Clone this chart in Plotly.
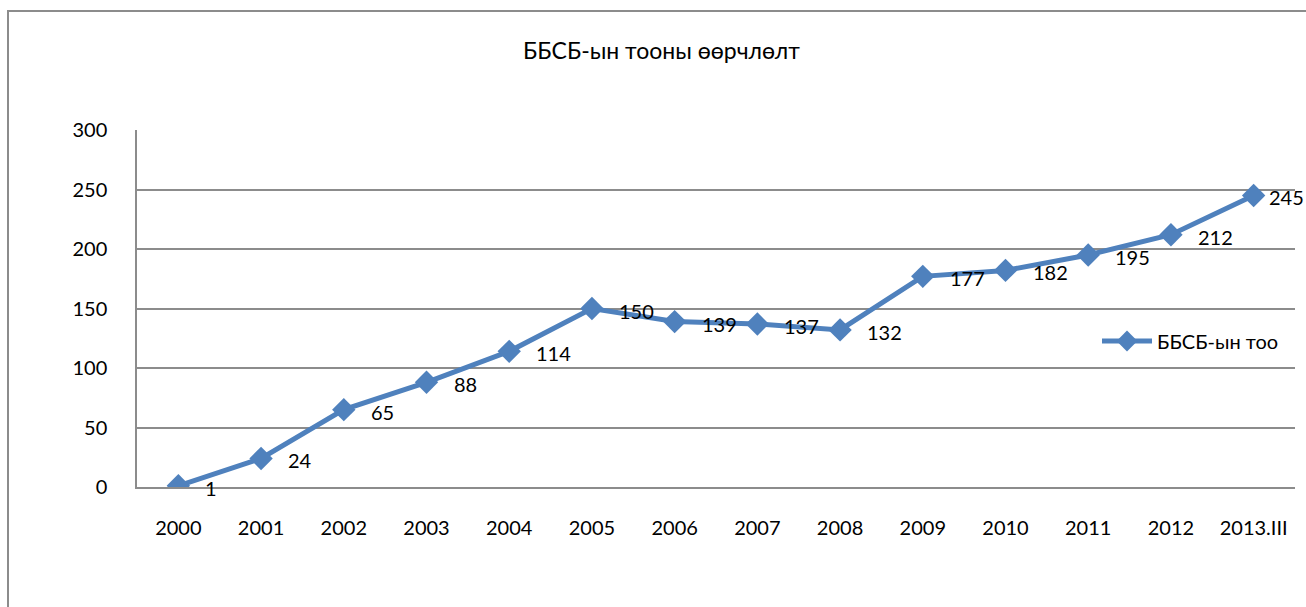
import plotly.graph_objects as go

categories = ["2000", "2001", "2002", "2003", "2004", "2005", "2006", "2007",
              "2008", "2009", "2010", "2011", "2012", "2013.III"]
values = [1, 24, 65, 88, 114, 150, 139, 137, 132, 177, 182, 195, 212, 245]
series_name = "ББСБ-ын тоо"
title_text = "ББСБ-ын тооны өөрчлөлт"

FONT = "Lato, Open Sans, sans-serif"
BLUE = "#4F81BD"
GRID = "#8C8C8C"

fig = go.Figure()
fig.add_trace(go.Scatter(
    x=categories, y=values, mode="lines+markers", name=series_name,
    line=dict(color=BLUE, width=5),
    marker=dict(symbol="diamond", size=18, color=BLUE),
))

n = len(values)
annotations = [
    dict(x=i, y=v, xref="x", yref="y", text=str(v), showarrow=False,
         xanchor="left", yanchor="middle",
         xshift=25 if i < n - 1 else 13, yshift=-2,
         font=dict(family=FONT, size=20, color="#000000"))
    for i, v in enumerate(values)
]
annotations.append(dict(
    x=(661 - 137) / 1158, y=(487 - 50) / 357, xref="paper", yref="paper",
    text=title_text, showarrow=False, xanchor="center", yanchor="middle",
    font=dict(family=FONT, size=23, color="#000000")))

fig.update_layout(
    width=1306, height=607,
    margin=dict(l=137, r=11, t=130, b=120),
    paper_bgcolor="white", plot_bgcolor="white",
    font=dict(family=FONT, size=20, color="#000000"),
    showlegend=True,
    legend=dict(x=(1097 - 137) / 1158, y=(487 - 341) / 357, xanchor="left",
                yanchor="middle", bgcolor="rgba(0,0,0,0)", itemwidth=50,
                font=dict(family=FONT, size=20, color="#000000")),
    annotations=annotations,
    xaxis=dict(type="category", range=[-0.5, 13.5], showgrid=False,
               showline=True, linecolor=GRID, linewidth=1.5, ticks="",
               ticklabelstandoff=22, tickfont=dict(family=FONT, size=20),
               fixedrange=True),
    yaxis=dict(range=[0, 300], dtick=50, showgrid=True, gridcolor=GRID,
               gridwidth=1.5, showline=True, linecolor=GRID, linewidth=1.5,
               ticks="", ticklabelstandoff=24, zeroline=False,
               tickfont=dict(family=FONT, size=20), fixedrange=True),
    shapes=[dict(type="rect", xref="paper", yref="paper",
                 x0=(8 - 137) / 1158, x1=1.1, y0=-0.6, y1=(487 - 11) / 357,
                 line=dict(color="#8C8C8C", width=2), layer="below")],
)

fig.write_html("out.html", config={"displayModeBar": False},
               post_script="document.body.style.margin='0';"
                           "document.body.style.overflow='hidden';")
